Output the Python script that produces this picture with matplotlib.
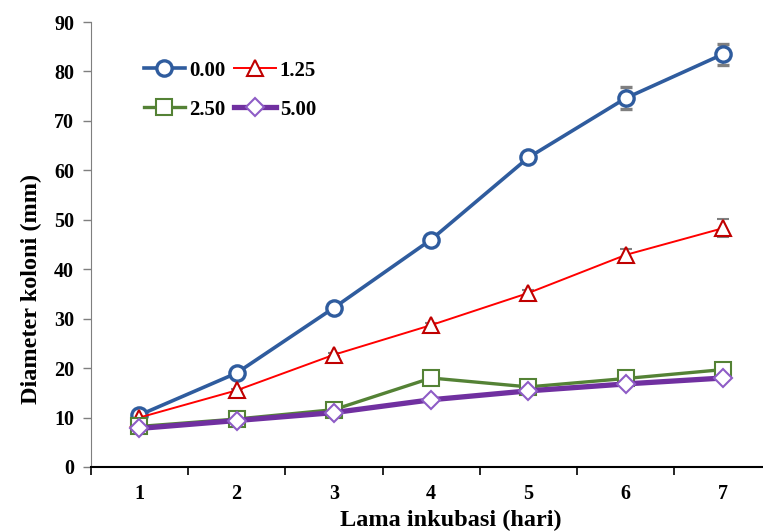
import matplotlib.pyplot as plt
from matplotlib.lines import Line2D
import numpy as np

# hari inkubasi
hari = [1, 2, 3, 4, 5, 6, 7]

# diameter koloni (mm) untuk tiap konsentrasi
d_000 = [10.5, 19.0, 32.2, 46.0, 62.6, 74.6, 83.5]
d_125 = [10.0, 15.5, 22.7, 28.7, 35.2, 42.9, 48.3]
d_250 = [8.2, 9.7, 11.6, 18.0, 16.2, 17.9, 19.7]
d_500 = [7.8, 9.4, 11.0, 13.6, 15.4, 16.8, 18.0]

# standar deviasi
sd_000 = [0.3, 0.3, 0.4, 0.5, 0.6, 2.2, 2.1]
sd_125 = [0.3, 0.3, 0.3, 0.4, 0.6, 1.2, 1.8]
sd_250 = [0.2, 0.2, 0.3, 0.4, 0.3, 0.3, 0.4]
sd_500 = [0.2, 0.2, 0.3, 0.3, 0.3, 0.3, 0.3]

labels = ["0.00", "1.25", "2.50", "5.00"]

plt.rcParams['font.family'] = ['Liberation Serif', 'DejaVu Serif']
plt.rcParams['font.weight'] = 'bold'

fig = plt.figure(figsize=(7.63, 5.32), dpi=100)
ax = fig.add_axes([90.7 / 763, 65 / 532, 681 / 763, 445 / 532])

err_kw = dict(ecolor='#7f7f7f', elinewidth=1.2, capsize=4, capthick=1.2)

gaya = [
    dict(color='#2f5c9e', lw=2.6, marker='o', ms=11, mfc='white', mec='#2f5c9e', mew=2.4),
    dict(color='#ff0000', lw=1.4, marker='^', ms=12, mfc='white', mec='#c00000', mew=1.5),
    dict(color='#548235', lw=2.4, marker='s', ms=11, mfc='white', mec='#548235', mew=1.5),
    dict(color='#7030a0', lw=3.8, marker='D', ms=9, mfc='white', mec='#8e5cc6', mew=1.5),
]

data = [d_000, d_125, d_250, d_500]
sd = [sd_000, sd_125, sd_250, sd_500]
for y, e, g in zip(data, sd, gaya):
    ax.errorbar(hari, y, yerr=e, **g, **err_kw)

ax.set_xlim(0.5, 7.5)
ax.set_ylim(0, 90)
ax.set_yticks(np.arange(0, 91, 10))
ax.set_xticks(hari)
ax.set_xticks(np.arange(0.5, 7.6, 1), minor=True)
ax.tick_params(axis='x', which='major', length=0, pad=12, labelsize=14.5)
ax.tick_params(axis='x', which='minor', length=6, width=1.2, direction='out')
ax.tick_params(axis='y', length=6, width=1, color='#7f7f7f', labelsize=14.5, pad=6)

for s in ['top', 'right']:
    ax.spines[s].set_visible(False)
ax.spines['left'].set_color('#7f7f7f')
ax.spines['bottom'].set_linewidth(1.5)

ax.set_ylabel("Diameter koloni (mm)", fontsize=17.5, fontweight='bold')
ax.yaxis.set_label_coords(-0.071, 0.40)
ax.set_xlabel("Lama inkubasi (hari)", fontsize=17.5, fontweight='bold')
ax.xaxis.set_label_coords(0.529, -0.097)

# legenda dua baris: 0.00, 1.25 di atas; 2.50, 5.00 di bawah
handles = [Line2D([], [], **g) for g in gaya]
urutan = [0, 2, 1, 3]
ax.legend([handles[i] for i in urutan], [labels[i] for i in urutan],
          loc='upper left', bbox_to_anchor=(0.05, 0.955), ncol=2, frameon=False,
          fontsize=15, handlelength=2.0, handletextpad=0.2, columnspacing=0.4,
          labelspacing=0.9)

fig.savefig("out.png", dpi=100)
